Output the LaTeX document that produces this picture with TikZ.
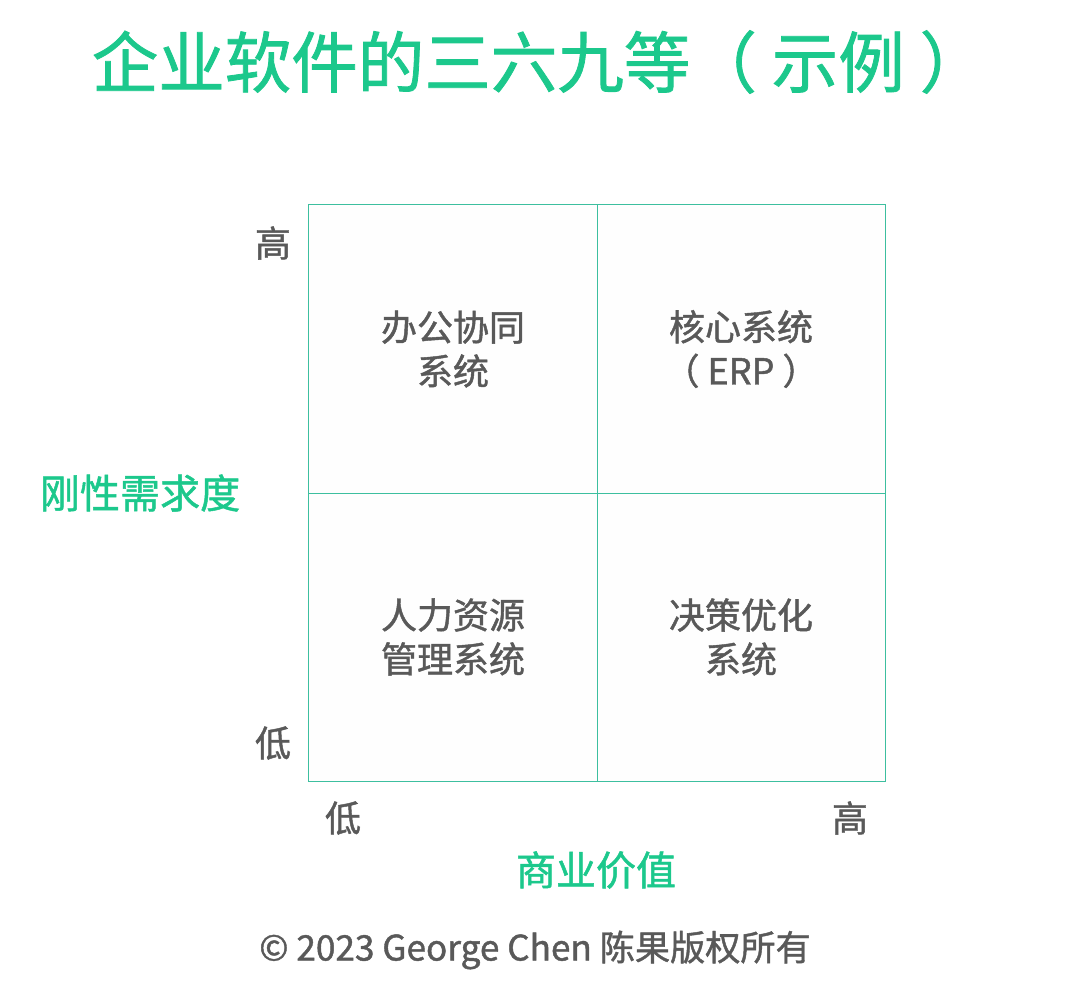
\documentclass[tikz,border=0pt]{standalone}
\usepackage{fontspec}
\setmainfont{Noto Sans CJK SC}[BoldFont={Noto Sans CJK SC}, BoldFeatures={FakeBold=1.2}]
\definecolor{titlegreen}{HTML}{1CC88C}
\definecolor{gridline}{HTML}{3DBF9F}
\definecolor{textgray}{HTML}{595959}

\begin{document}
\begin{tikzpicture}[x=0.025cm, y=-0.025cm,
                    every node/.style = {align=center, inner sep=0pt},
                    cell/.style = {fill=gray!1, minimum width=7.2cm, minimum height=7.2cm,
                      text=textgray, font=\fontsize{25.6}{31.3}\selectfont\bfseries},
                    tick/.style = {text=textgray, font=\fontsize{25.6}{30}\selectfont\bfseries},
                    axis/.style = {text=titlegreen, font=\fontsize{28.5}{34}\selectfont\bfseries},
                    grid/.style = {draw=gridline, line width=1pt}]
  \useasboundingbox (0,0) rectangle (1076,994);
  \node[text=titlegreen, font=\fontsize{47.3}{56}\selectfont\bfseries] (title) at (539,62)
    {企业软件的三六九等（ 示例 ）};
  % the four quadrants
  \node[cell] (office) at (453,349) {办公协同\\系统};
  \node[cell] (erp)    at (741,349) {核心系统\\（ ERP ）};
  \node[cell] (hr)     at (453,637) {人力资源\\管理系统};
  \node[cell] (dss)    at (741,637) {决策优化\\系统};
  \draw[grid] (office.north west) rectangle (dss.south east);
  \draw[grid] (office.north east) -- (hr.south east);
  \draw[grid] (office.south west) -- (erp.south east);
  % axes
  \node[tick] (yhigh) at (273,243) {高};
  \node[tick] (ylow)  at (273,743) {低};
  \node[tick] (xlow)  at (343,818) {低};
  \node[tick] (xhigh) at (850,818) {高};
  \node[axis] (ylabel) at (140,493) {刚性需求度};
  \node[axis] (xlabel) at (596,870) {商业价值};
  \node[text=textgray, font=\fontsize{25}{30}\selectfont\bfseries] (copy) at (535,950)
    {© 2023 George Chen 陈果版权所有};
\end{tikzpicture}
\end{document}
